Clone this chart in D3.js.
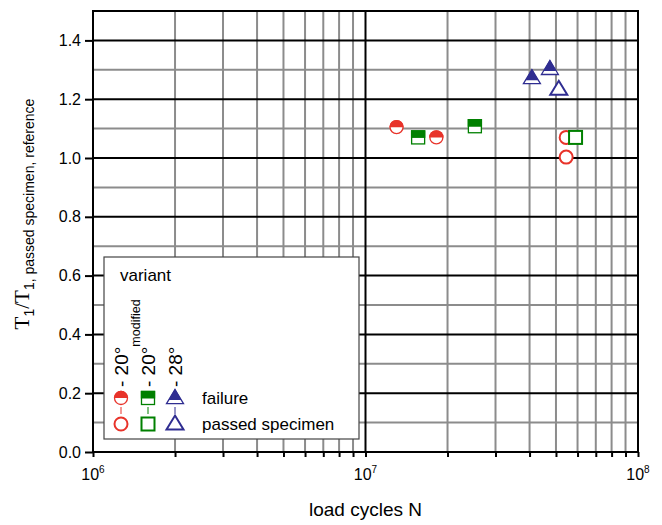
<!DOCTYPE html>
<html>
<head>
<meta charset="utf-8">
<script src="https://cdn.jsdelivr.net/npm/d3@7"></script>
<style>
  body { margin: 0; background: #fff; }
  text { font-family: "Liberation Sans", Arial, sans-serif; }
</style>
</head>
<body>
<div id="chart"></div>
<script>
// values
const xTicks = [1e6, 1e7, 1e8];
const yTicks = [0, 0.2, 0.4, 0.6, 0.8, 1.0, 1.2, 1.4];

const fail20 = [[1.3e7, 1.105], [1.82e7, 1.07]];
const pass20 = [[5.45e7, 1.07], [5.45e7, 1.003]];
const fail20mod = [[1.56e7, 1.07], [2.52e7, 1.108]];
const pass20mod = [[5.9e7, 1.07]];
const fail28 = [[4.08e7, 1.272], [4.75e7, 1.303]];
const pass28 = [[5.12e7, 1.234]];

const red = "#e8332a", green = "#008000", blue = "#2f2d91";

const width = 662, height = 525;
const margin = {top: 11, right: 24, bottom: 73, left: 93};

const svg = d3.select("#chart").append("svg")
    .attr("width", width)
    .attr("height", height);

const x = d3.scaleLog()
    .domain([1e6, 1e8])
    .range([margin.left, width - margin.right]);
const y = d3.scaleLinear()
    .domain([0, 1.5])
    .range([height - margin.bottom, margin.top]);

// grid
const minorX = [];
for (let d = 1e6; d < 1e8; d *= 10) {
  for (let k = 2; k <= 9; k++) minorX.push(d * k);
}
const grid = svg.append("g");
grid.selectAll(".vx")
    .data(minorX)
  .enter().append("line")
    .attr("x1", d => x(d)).attr("x2", d => x(d))
    .attr("y1", y(0)).attr("y2", y(1.5))
    .style("stroke", "#8c8c8c").style("stroke-width", 2);
grid.selectAll(".hy")
    .data(d3.range(1, 15, 2).map(d => d / 10))
  .enter().append("line")
    .attr("x1", x(1e6)).attr("x2", x(1e8))
    .attr("y1", d => y(d)).attr("y2", d => y(d))
    .style("stroke", "#8c8c8c").style("stroke-width", 2);
grid.selectAll(".hmaj")
    .data(yTicks.slice(1))
  .enter().append("line")
    .attr("x1", x(1e6)).attr("x2", x(1e8))
    .attr("y1", d => y(d)).attr("y2", d => y(d))
    .style("stroke", "#000").style("stroke-width", 2);
grid.append("line")
    .attr("x1", x(1e7)).attr("x2", x(1e7))
    .attr("y1", y(0)).attr("y2", y(1.5))
    .style("stroke", "#000").style("stroke-width", 2);

// frame
svg.append("rect")
    .attr("x", x(1e6)).attr("y", y(1.5))
    .attr("width", x(1e8) - x(1e6)).attr("height", y(0) - y(1.5))
    .style("fill", "none").style("stroke", "#000").style("stroke-width", 2);

// axes
const yAxis = svg.append("g")
    .attr("transform", `translate(${x(1e6)},0)`)
    .call(d3.axisLeft(y).tickValues(yTicks).tickFormat(d3.format(".1f")).tickSize(8).tickPadding(4));
yAxis.select(".domain").remove();
yAxis.selectAll("line").style("stroke-width", 2);
yAxis.selectAll("text").style("font-size", "16px").style("fill", "#000");

const xAxis = svg.append("g")
    .attr("transform", `translate(0,${y(0)})`)
    .call(d3.axisBottom(x).tickValues(xTicks.concat(minorX)).tickFormat("").tickSize(5));
xAxis.select(".domain").remove();
xAxis.selectAll("line").style("stroke-width", 2);

const xLab = svg.append("g").selectAll("text")
    .data(xTicks)
  .enter().append("text")
    .attr("x", d => x(d))
    .attr("y", y(0) + 28)
    .attr("text-anchor", "middle")
    .style("font-size", "16px");
xLab.append("tspan").text("10");
xLab.append("tspan").attr("dy", -7).style("font-size", "10px").text(d => Math.log10(d));

svg.append("text")
    .attr("x", x(1e7))
    .attr("y", height - 9)
    .attr("text-anchor", "middle")
    .style("font-size", "19px")
    .text("load cycles N");

const yTitle = svg.append("text")
    .attr("transform", `translate(29,214) rotate(-90)`)
    .attr("text-anchor", "middle")
    .style("font-size", "21px");
yTitle.append("tspan").style("font-family", "Liberation Serif, serif").text("T");
yTitle.append("tspan").attr("dy", 5).style("font-size", "14px").text("1");
yTitle.append("tspan").attr("dy", -5).style("font-family", "Liberation Serif, serif").text("/T");
yTitle.append("tspan").attr("dy", 5).style("font-size", "14px").text("1, passed specimen, reference");

// symbols
function drawCircle(g, cx, cy, c, half) {
  g.append("circle").attr("cx", cx).attr("cy", cy).attr("r", 6.5)
      .style("fill", "#fff").style("stroke", c).style("stroke-width", half ? 1.3 : 2);
  if (half) {
    g.append("path")
        .attr("d", `M${cx - 7.2},${cy} A7.2,7.2 0 0 1 ${cx + 7.2},${cy} Z`)
        .style("fill", c);
  }
}
function drawSquare(g, cx, cy, c, half) {
  g.append("rect").attr("x", cx - 6.5).attr("y", cy - 6.5).attr("width", 13).attr("height", 13)
      .style("fill", "#fff").style("stroke", c).style("stroke-width", half ? 1.3 : 2);
  if (half) {
    g.append("rect").attr("x", cx - 7.2).attr("y", cy - 7.2).attr("width", 14.4).attr("height", 7.7)
        .style("fill", c);
  }
}
function drawTriangle(g, cx, cy, c, half) {
  const h = 14, w = 8.5;
  g.append("path")
      .attr("d", `M${cx},${cy - h * 0.6} L${cx + w},${cy + h * 0.4} L${cx - w},${cy + h * 0.4} Z`)
      .style("fill", "#fff").style("stroke", c).style("stroke-width", half ? 1.3 : 2)
      .style("stroke-linejoin", "miter");
  if (half) {
    g.append("path")
        .attr("d", `M${cx},${cy - h * 0.6 - 1} L${cx + w * 0.75},${cy + h * 0.15} L${cx - w * 0.75},${cy + h * 0.15} Z`)
        .style("fill", c);
  }
}

const marks = svg.append("g");
const series = [
  [pass20, drawCircle, red, false],
  [fail20, drawCircle, red, true],
  [pass20mod, drawSquare, green, false],
  [fail20mod, drawSquare, green, true],
  [pass28, drawTriangle, blue, false],
  [fail28, drawTriangle, blue, true]
];
series.forEach(([data, fn, c, half]) => {
  data.forEach(d => fn(marks, x(d[0]), y(d[1]), c, half));
});

// legend
const lg = svg.append("g");
lg.append("rect")
    .attr("x", 104).attr("y", 257).attr("width", 255).attr("height", 182)
    .style("fill", "#fff").style("stroke", "#444").style("stroke-width", 1.2);
lg.append("text").attr("x", 120).attr("y", 281).style("font-size", "17px").text("variant");

const cols = [
  {x: 121, fn: drawCircle, c: red, label: "- 20°", sub: ""},
  {x: 148, fn: drawSquare, c: green, label: "- 20°", sub: "modified"},
  {x: 175, fn: drawTriangle, c: blue, label: "- 28°", sub: ""}
];
cols.forEach(k => {
  k.fn(lg, k.x, 398, k.c, true);
  k.fn(lg, k.x, 424, k.c, false);
  lg.append("line").attr("x1", k.x).attr("x2", k.x).attr("y1", 407).attr("y2", 414)
      .style("stroke", k.c).style("stroke-width", 1);
  const t = lg.append("text")
      .attr("transform", `translate(${k.x + 7},387) rotate(-90)`)
      .style("font-size", "19px");
  t.append("tspan").text(k.label);
  if (k.sub) t.append("tspan").attr("dy", -15).style("font-size", "12.5px").text(k.sub);
});
lg.append("text").attr("x", 202).attr("y", 404).style("font-size", "17px").text("failure");
lg.append("text").attr("x", 202).attr("y", 430).style("font-size", "17px").text("passed specimen");
</script>
</body>
</html>
